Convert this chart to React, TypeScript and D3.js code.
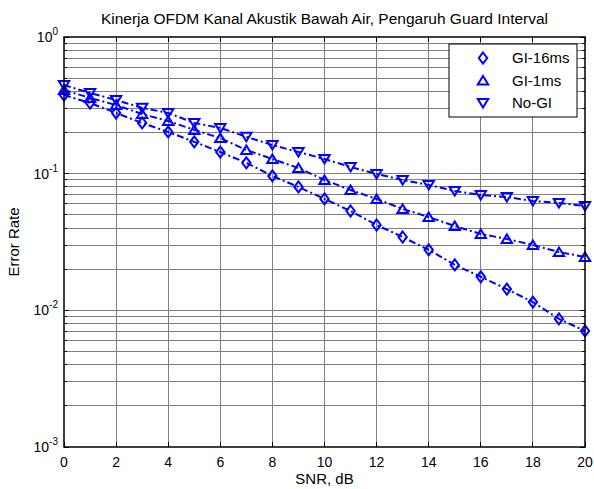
import * as d3 from "d3";

const W = 594;
const H = 489;
const margin = { top: 37, right: 9, bottom: 42, left: 64 };

const snr = [0, 1, 2, 3, 4, 5, 6, 7, 8, 9, 10, 11, 12, 13, 14, 15, 16, 17, 18, 19, 20];

// GI-16ms (diamonds)
const gi16 = [
  0.376, 0.329, 0.278, 0.235, 0.202, 0.171, 0.144, 0.12, 0.0962, 0.08, 0.0653,
  0.0533, 0.0421, 0.0344, 0.0277, 0.0215, 0.0176, 0.0143, 0.0115, 0.00865, 0.00707,
];
// GI-1ms (up triangles)
const gi1 = [
  0.41, 0.358, 0.318, 0.273, 0.243, 0.209, 0.182, 0.149, 0.128, 0.11, 0.0899,
  0.076, 0.0653, 0.0552, 0.0482, 0.0414, 0.0362, 0.0333, 0.0301, 0.0267, 0.0246,
];
// No-GI (down triangles)
const noGi = [
  0.445, 0.389, 0.346, 0.303, 0.278, 0.235, 0.216, 0.186, 0.162, 0.144, 0.128,
  0.112, 0.0995, 0.0899, 0.0827, 0.0747, 0.0698, 0.0675, 0.0631, 0.061, 0.058,
];

const seriesNames = ["GI-16ms", "GI-1ms", "No-GI"];
const markerKinds = ["diamond", "up", "down"];
const xTicks = [0, 2, 4, 6, 8, 10, 12, 14, 16, 18, 20];
const yExponents = [0, -1, -2, -3];

const BLUE = "#0000ff";
const FONT = "'Liberation Sans', Arial, sans-serif";

function markerPath(kind: string) {
  if (kind === "diamond") return "M0,-5.5L4.2,0L0,5.5L-4.2,0Z";
  if (kind === "up") return "M0,-4.5L5.2,4L-5.2,4Z";
  return "M0,4.5L5.2,-4L-5.2,-4Z";
}

export default function App() {
  const x = d3
    .scaleLinear()
    .domain([0, 20])
    .range([margin.left, W - margin.right]);
  const y = d3
    .scaleLog()
    .domain([1e-3, 1])
    .range([H - margin.bottom, margin.top]);

  const left = margin.left;
  const right = W - margin.right;
  const top = margin.top;
  const bottom = H - margin.bottom;

  const minor: number[] = [];
  for (const e of [-3, -2, -1]) {
    for (let k = 2; k <= 9; k++) minor.push(k * Math.pow(10, e));
  }
  const major = yExponents.map((e) => Math.pow(10, e));

  const line = d3
    .line<number>()
    .x((_, i) => x(snr[i]))
    .y((d) => y(d));

  const allSeries = [gi16, gi1, noGi];

  return (
    <svg
      width={W}
      height={H}
      style={{ position: "absolute", left: 0, top: 0, background: "#fff" }}
      fontFamily={FONT}
    >
      <rect x={0} y={0} width={W} height={H} fill="#fff" />

      {/* grid */}
      <g stroke="#808080" strokeWidth={1} shapeRendering="crispEdges">
        {xTicks.slice(1, -1).map((t) => (
          <line key={"gx" + t} x1={x(t)} x2={x(t)} y1={top} y2={bottom} />
        ))}
        {minor.concat(major.slice(1, -1)).map((v, i) => (
          <line key={"gy" + i} x1={left} x2={right} y1={y(v)} y2={y(v)} />
        ))}
      </g>

      {/* ticks */}
      <g stroke="#000" strokeWidth={1} shapeRendering="crispEdges">
        {xTicks.map((t) => (
          <g key={"tx" + t}>
            <line x1={x(t)} x2={x(t)} y1={bottom} y2={bottom - 5} />
            <line x1={x(t)} x2={x(t)} y1={top} y2={top + 5} />
          </g>
        ))}
        {minor.map((v, i) => (
          <g key={"tmy" + i}>
            <line x1={left} x2={left + 3} y1={y(v)} y2={y(v)} />
            <line x1={right} x2={right - 3} y1={y(v)} y2={y(v)} />
          </g>
        ))}
        {major.map((v, i) => (
          <g key={"tMy" + i}>
            <line x1={left} x2={left + 5} y1={y(v)} y2={y(v)} />
            <line x1={right} x2={right - 5} y1={y(v)} y2={y(v)} />
          </g>
        ))}
      </g>

      {/* series */}
      {allSeries.map((s, si) => (
        <g key={"s" + si}>
          <path
            d={line(s) || ""}
            fill="none"
            stroke={BLUE}
            strokeWidth={2}
            strokeDasharray="7,3,2,3"
          />
          {s.map((v, i) => (
            <path
              key={i}
              d={markerPath(markerKinds[si])}
              transform={`translate(${x(snr[i])},${y(v)})`}
              fill="none"
              stroke={BLUE}
              strokeWidth={2}
            />
          ))}
        </g>
      ))}

      {/* frame */}
      <rect
        x={left}
        y={top}
        width={right - left}
        height={bottom - top}
        fill="none"
        stroke="#000"
        strokeWidth={1.5}
      />

      {/* x tick labels */}
      {xTicks.map((t) => (
        <text key={"lx" + t} x={x(t)} y={bottom + 20} fontSize={14} textAnchor="middle">
          {t}
        </text>
      ))}

      {/* y tick labels */}
      {yExponents.map((e) => (
        <text key={"ly" + e} x={left - 6} y={y(Math.pow(10, e)) + 5} fontSize={14} textAnchor="end">
          10
          <tspan dy={-7} fontSize={10}>
            {e}
          </tspan>
        </text>
      ))}

      {/* labels */}
      <text x={(left + right) / 2} y={24} fontSize={15.5} textAnchor="middle">
        Kinerja OFDM Kanal Akustik Bawah Air, Pengaruh Guard Interval
      </text>
      <text x={(left + right) / 2} y={H - 5} fontSize={15} textAnchor="middle">
        SNR, dB
      </text>
      <text
        transform={`translate(19,${(top + bottom) / 2}) rotate(-90)`}
        fontSize={15}
        textAnchor="middle"
      >
        Error Rate
      </text>

      {/* legend */}
      <g>
        <rect x={449} y={44} width={128} height={73} fill="#fff" stroke="#000" strokeWidth={1} />
        {seriesNames.map((n, i) => (
          <g key={"lg" + i} transform={`translate(0,${58 + i * 22.5})`}>
            <path
              d={markerPath(markerKinds[i])}
              transform="translate(483,0)"
              fill="none"
              stroke={BLUE}
              strokeWidth={2}
            />
            <text x={512} y={5} fontSize={15}>
              {n}
            </text>
          </g>
        ))}
      </g>
    </svg>
  );
}
